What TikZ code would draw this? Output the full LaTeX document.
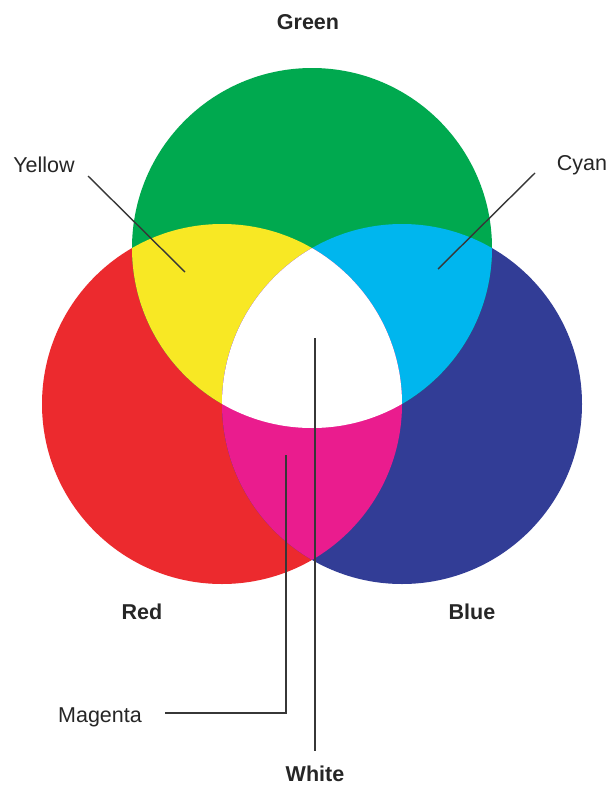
\documentclass[tikz,border=0pt]{standalone}
\usepackage{fontspec}
\setmainfont{Liberation Sans}
\definecolor{cgreen}{RGB}{0,169,79}
\definecolor{cyellow}{RGB}{248,232,36}
\definecolor{cred}{RGB}{236,42,46}
\definecolor{cblue}{RGB}{50,61,150}
\definecolor{ccyan}{RGB}{0,182,238}
\definecolor{cmagenta}{RGB}{234,28,142}
\definecolor{cline}{RGB}{55,55,55}
\begin{document}
\begin{tikzpicture}[x=1pt,y=-1pt,
  lbl/.style={font=\fontsize{21.5}{25}\selectfont, text=black!85, inner sep=0pt},
  blbl/.style={lbl, font=\fontsize{21.5}{25}\selectfont\bfseries},
  leader/.style={draw=cline, line width=1.4pt}]
\useasboundingbox (0,0) rectangle (610,787);
\fill[white] (0,0) rectangle (610,787);
% circles
\def\R{180}
\coordinate (gc) at (312,248);
\coordinate (rc) at (222,404);
\coordinate (bc) at (402,404);
\fill[cred] (rc) circle (\R);
\fill[cblue] (bc) circle (\R);
\fill[cgreen] (gc) circle (\R);
\begin{scope}
  \clip (gc) circle (\R);
  \fill[cyellow] (rc) circle (\R);
  \fill[ccyan] (bc) circle (\R);
\end{scope}
\begin{scope}
  \clip (rc) circle (\R);
  \fill[cmagenta] (bc) circle (\R);
  \clip (bc) circle (\R);
  \fill[white] (gc) circle (\R);
\end{scope}
% labels
\node[blbl] (green) at (308,22) {Green};
\node[lbl] (yellow) at (44,165) {Yellow};
\node[lbl] (cyan) at (582,165) {Cyan};
\node[blbl] (red) at (142,612) {Red};
\node[blbl] (blue) at (472,612) {Blue};
\node[lbl] (magenta) at (100,717) {Magenta};
\node[blbl] (white) at (315,774) {White};
% leader lines
\coordinate (ya) at (88,176);
\coordinate (yb) at (185,272);
\coordinate (ca) at (535,173);
\coordinate (cb) at (438,269);
\coordinate (wa) at (315,338);
\coordinate (wb) at (315,751);
\coordinate (ma) at (286,455);
\coordinate (mb) at (286,713);
\coordinate (mc) at (165,713);
\draw[leader] (ya) -- (yb);
\draw[leader] (ca) -- (cb);
\draw[leader] (wa) -- (wb);
\draw[leader] (ma) -- (mb) -- (mc);
\end{tikzpicture}
\end{document}
